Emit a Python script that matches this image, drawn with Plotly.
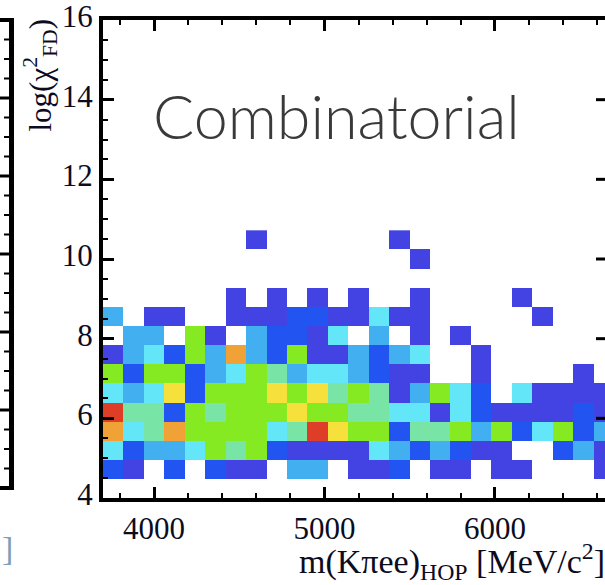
import plotly.graph_objects as go

# ---------------- data ----------------
# x bin centres  (m(Kpiee)_HOP, 120 MeV bins starting at 3700)
x_centres = [3760, 3880, 4000, 4120, 4240, 4360, 4480, 4600, 4720, 4840,
             4960, 5080, 5200, 5320, 5440, 5560, 5680, 5800, 5920, 6040,
             6160, 6280, 6400, 6520, 6640]
# y bin centres  (log(chi2_FD), 0.48 bins starting at 4)
y_centres = [4.24, 4.72, 5.20, 5.68, 6.16, 6.64, 7.12, 7.60, 8.08, 8.56,
             9.04, 9.52, 10.00, 10.48]

# counts per y bin (0 = empty)
row_00 = [0] * 25
row_01 = [2, 1, 0, 2, 0, 2, 1, 1, 0, 3, 3, 0, 1, 1, 2, 0, 1, 1, 0, 1, 1, 0, 0, 0, 1]
row_02 = [4, 2, 3, 3, 4, 6, 5, 6, 2, 1, 1, 1, 1, 4, 3, 2, 3, 2, 1, 1, 0, 0, 2, 3, 1]
row_03 = [8, 4, 5, 8, 6, 6, 6, 6, 4, 5, 9, 7, 6, 6, 2, 5, 5, 6, 3, 6, 2, 4, 6, 2, 3]
row_04 = [9, 5, 5, 2, 6, 5, 6, 6, 6, 7, 6, 6, 5, 5, 4, 4, 1, 4, 2, 1, 1, 1, 1, 2, 1]
row_05 = [4, 3, 4, 7, 2, 6, 6, 6, 7, 6, 7, 5, 6, 5, 1, 3, 6, 4, 2, 0, 4, 1, 1, 1, 1]
row_06 = [6, 2, 6, 6, 2, 3, 4, 6, 5, 3, 4, 4, 3, 2, 1, 1, 0, 0, 1, 0, 0, 0, 0, 1, 0]
row_07 = [1, 3, 4, 2, 6, 3, 8, 3, 2, 6, 1, 1, 3, 2, 3, 4, 0, 0, 1, 0, 0, 0, 0, 0, 0]
row_08 = [0, 3, 3, 0, 6, 1, 0, 3, 2, 2, 1, 4, 0, 3, 0, 1, 0, 1, 0, 0, 0, 0, 0, 0, 0]
row_09 = [3, 0, 1, 1, 0, 0, 1, 1, 1, 2, 2, 1, 1, 4, 1, 1, 0, 0, 0, 0, 0, 1, 0, 0, 0]
row_10 = [0, 0, 0, 0, 0, 0, 1, 0, 1, 0, 1, 0, 1, 0, 0, 1, 0, 0, 0, 0, 1, 0, 0, 0, 0]
row_11 = [0] * 25
row_12 = [0, 0, 0, 0, 0, 0, 0, 0, 0, 0, 0, 0, 0, 0, 0, 1, 0, 0, 0, 0, 0, 0, 0, 0, 0]
row_13 = [0, 0, 0, 0, 0, 0, 0, 1, 0, 0, 0, 0, 0, 0, 1, 0, 0, 0, 0, 0, 0, 0, 0, 0, 0]

x_tick_values = [4000, 5000, 6000]
y_tick_values = [4, 6, 8, 10, 12, 14, 16]

palette = ["#4343e4", "#2254f2", "#42b0f0", "#62e6f8", "#78e4a6",
           "#86ea22", "#f6e03c", "#f0a236", "#de3e28"]

# ---------------- figure geometry ----------------
W, H = 605, 585
ML, MR, MT, MB = 103, 0, 20, 87
PW, PH = W - ML - MR, H - MT - MB
X0, X1 = 3700, 6646
Y0, Y1 = 4, 16


def px(xp):
    return (xp - ML) / PW


def py(yp):
    return (H - MB - yp) / PH


rows = [row_00, row_01, row_02, row_03, row_04, row_05, row_06, row_07,
        row_08, row_09, row_10, row_11, row_12, row_13]
z = [[(v if v > 0 else None) for v in r] for r in rows]

n = len(palette)
cs = []
for i, c in enumerate(palette):
    cs.append([i / n, c])
    cs.append([(i + 1) / n, c])

fig = go.Figure(go.Heatmap(
    x=x_centres, y=y_centres, z=z, zmin=0.5, zmax=n + 0.5,
    colorscale=cs, showscale=False, hoverongaps=False))

serif = "Liberation Serif"
ink = "#0c0c1e"
fig.update_layout(
    width=W, height=H, margin=dict(l=ML, r=MR, t=MT, b=MB),
    paper_bgcolor="white", plot_bgcolor="white", showlegend=False,
    xaxis=dict(range=[X0, X1], tickvals=x_tick_values, ticks="inside",
               ticklen=11, tickwidth=3, tickcolor="black",
               showline=True, linewidth=4, linecolor="black", mirror="ticks",
               showgrid=False, zeroline=False,
               tickfont=dict(family=serif, size=31, color=ink),
               minor=dict(dtick=200, tick0=0, ticks="inside", ticklen=5,
                          tickwidth=2, tickcolor="black", showgrid=False)),
    yaxis=dict(range=[Y0, Y1], tickvals=y_tick_values, ticks="inside",
               ticklen=11, tickwidth=3, tickcolor="black",
               showline=True, linewidth=4, linecolor="black", mirror=False,
               showgrid=False, zeroline=False, ticklabelshift=-4,
               ticklabeloverflow="allow",
               tickfont=dict(family=serif, size=31, color=ink),
               minor=dict(dtick=0.5, tick0=0, ticks="inside", ticklen=5,
                          tickwidth=2, tickcolor="black", showgrid=False)),
)

shapes = []
# right-hand frame ticks (frame itself lies just outside the picture)
for yv in [6, 8, 10, 12, 14]:
    shapes.append(dict(type="line", xref="paper", yref="y",
                       x0=px(596), x1=px(606), y0=yv, y1=yv,
                       line=dict(color="black", width=3)))
# neighbouring panel sliver on the left
shapes.append(dict(type="line", xref="paper", yref="paper",
                   x0=px(11.5), x1=px(11.5), y0=py(18), y1=py(490),
                   line=dict(color="black", width=5)))
shapes.append(dict(type="line", xref="paper", yref="paper",
                   x0=px(-2), x1=px(14), y0=py(20), y1=py(20),
                   line=dict(color="black", width=4)))
shapes.append(dict(type="line", xref="paper", yref="paper",
                   x0=px(-2), x1=px(14), y0=py(488), y1=py(488),
                   line=dict(color="black", width=4)))
for k in range(1, 24):
    yy = 488 - 19.5 * k
    ln = 11 if k % 4 == 0 else 6
    shapes.append(dict(type="line", xref="paper", yref="paper",
                       x0=px(10 - ln), x1=px(10), y0=py(yy), y1=py(yy),
                       line=dict(color="black", width=3 if k % 4 == 0 else 2)))
fig.update_layout(shapes=shapes)

annotations = [
    dict(text="Combinatorial", xref="paper", yref="paper",
         x=px(151), y=py(116), xanchor="left", yanchor="middle",
         showarrow=False,
         font=dict(family="Lato", size=61, color="#3a3a3a", weight=300)),
    dict(text="m(K\u03c0ee)<sub>HOP</sub> [MeV/c<sup>2</sup>]",
         xref="paper", yref="paper", x=px(607), y=py(587),
         xanchor="right", yanchor="bottom", showarrow=False,
         font=dict(family=serif, size=34, color=ink)),
    dict(text="log(\u03c7<sup>2</sup><sub>FD</sub>)", textangle=-90,
         xref="paper", yref="paper", x=px(40), y=py(17),
         xanchor="center", yanchor="top", showarrow=False,
         font=dict(family=serif, size=31, color=ink)),
    dict(text="]", xref="paper", yref="paper", x=px(0), y=py(548),
         xanchor="left", yanchor="middle", showarrow=False,
         font=dict(family=serif, size=34, color="#7f9fb8")),
]
fig.update_layout(annotations=annotations)

fig.write_html("out.html")
